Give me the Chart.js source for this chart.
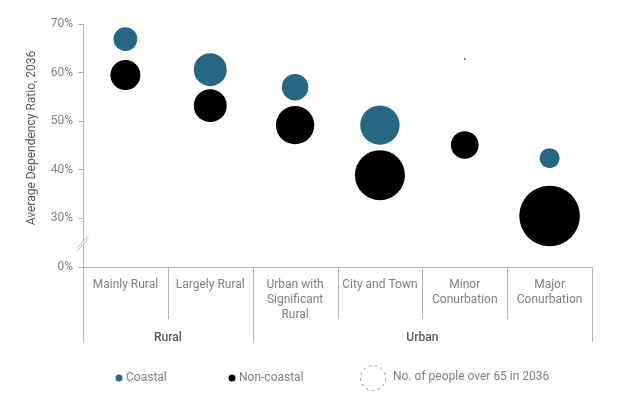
<!DOCTYPE html>
<html>
<head>
<meta charset="utf-8">
<script src="https://cdn.jsdelivr.net/npm/chart.js@4"></script>
<style>
  html, body { margin: 0; padding: 0; background: #fff; }
  #wrap { width: 620px; height: 399px; }
</style>
</head>
<body>
<div id="wrap"><canvas id="chart"></canvas></div>
<script>
// categories and groups
const categories = ['Mainly Rural', 'Largely Rural', 'Urban with Significant Rural', 'City and Town', 'Minor Conurbation', 'Major Conurbation'];
const categoryLines = [['Mainly Rural'], ['Largely Rural'], ['Urban with', 'Significant', 'Rural'], ['City and Town'], ['Minor', 'Conurbation'], ['Major', 'Conurbation']];
const groups = ['Rural', 'Urban'];
const groupSizes = [2, 4];

// average dependency ratio 2036 (%)
const coastalRatio = [66.9, 60.6, 57.0, 49.2, 62.8, 42.4];
const nonCoastalRatio = [59.5, 53.2, 49.2, 38.9, 45.1, 30.5];

// people over 65 in 2036 (thousands)
const coastalPeople = [170, 325, 210, 465, 1, 120];
const nonCoastalPeople = [270, 325, 440, 750, 230, 1100];

const yTicks = [20, 30, 40, 50, 60, 70];   // 20 is drawn as 0% below the axis break

const BLUE = '#276783';
const GREY_LINE = '#b4b4b4';
const TEXT = '#7f7f7f';
const TEXT_DARK = '#595959';
const FONT = 'Roboto, "Liberation Sans", sans-serif';
const SIZE_SCALE = 0.9136;

function bubbles(vals, people) {
  return vals.map((v, i) => ({ x: categories[i], y: v, r: SIZE_SCALE * Math.sqrt(people[i]) }));
}

const decor = {
  id: 'decor',
  afterDraw(chart) {
    const ctx = chart.ctx;
    const x = chart.scales.x;
    const area = chart.chartArea;
    const base = area.bottom;
    const n = categories.length;
    const bound = i => i === 0 ? area.left : i === n ? area.right : (x.getPixelForValue(i - 1) + x.getPixelForValue(i)) / 2;

    ctx.save();
    ctx.strokeStyle = GREY_LINE;
    ctx.lineWidth = 1;

    // baseline
    ctx.beginPath();
    ctx.moveTo(area.left - 5, Math.round(base) + 0.5);
    ctx.lineTo(area.right, Math.round(base) + 0.5);
    ctx.stroke();

    // separators
    const groupEdges = [0];
    groupSizes.forEach(s => groupEdges.push(groupEdges[groupEdges.length - 1] + s));
    for (let i = 0; i <= n; i++) {
      const px = Math.round(bound(i)) + 0.5;
      const end = groupEdges.includes(i) ? 342 : 319;
      ctx.beginPath();
      ctx.moveTo(px, i === 0 ? area.top : base);
      ctx.lineTo(px, end);
      ctx.stroke();
    }

    // axis break
    const by = (chart.scales.y.getPixelForValue(20) + chart.scales.y.getPixelForValue(30)) / 2;
    const ax = Math.round(area.left) + 0.5;
    ctx.fillStyle = '#fff';
    ctx.beginPath();
    ctx.moveTo(ax - 6, by + 5);
    ctx.lineTo(ax + 5, by - 7);
    ctx.lineTo(ax + 5, by - 4);
    ctx.lineTo(ax - 6, by + 8);
    ctx.closePath();
    ctx.fill();
    ctx.beginPath();
    ctx.moveTo(ax - 6, by + 5); ctx.lineTo(ax + 5, by - 7);
    ctx.moveTo(ax - 6, by + 8); ctx.lineTo(ax + 5, by - 4);
    ctx.stroke();

    // category labels
    ctx.textAlign = 'center';
    ctx.textBaseline = 'middle';
    ctx.font = '12px ' + FONT;
    ctx.fillStyle = TEXT;
    categoryLines.forEach((lines, i) => {
      const cx = x.getPixelForValue(i);
      lines.forEach((t, j) => ctx.fillText(t, cx, 285 + j * 15));
    });

    // group labels
    ctx.font = '500 12px ' + FONT;
    ctx.fillStyle = TEXT_DARK;
    groups.forEach((g, k) => {
      const cx = (bound(groupEdges[k]) + bound(groupEdges[k + 1])) / 2;
      ctx.fillText(g, cx, 338);
    });

    // y-axis title
    ctx.save();
    ctx.translate(32, 138);
    ctx.rotate(-Math.PI / 2);
    ctx.font = '12px ' + FONT;
    ctx.fillStyle = TEXT_DARK;
    ctx.fillText('Average Dependency Ratio, 2036', 0, 0);
    ctx.restore();

    // legend
    const ly = 378;
    ctx.textAlign = 'left';
    ctx.font = '12px ' + FONT;
    ctx.fillStyle = BLUE;
    ctx.beginPath(); ctx.arc(119, ly, 3.5, 0, Math.PI * 2); ctx.fill();
    ctx.fillStyle = TEXT;
    ctx.fillText('Coastal', 126, ly);
    ctx.fillStyle = '#000';
    ctx.beginPath(); ctx.arc(232, ly, 3.5, 0, Math.PI * 2); ctx.fill();
    ctx.fillStyle = TEXT;
    ctx.fillText('Non-coastal', 239, ly);
    ctx.setLineDash([3, 3]);
    ctx.strokeStyle = '#999';
    ctx.beginPath(); ctx.arc(373, ly, 12.5, 0, Math.PI * 2); ctx.stroke();
    ctx.setLineDash([]);
    ctx.fillText('No. of people over 65 in 2036', 393, ly - 1);

    ctx.restore();
  }
};

new Chart(document.getElementById('chart'), {
  type: 'bubble',
  data: {
    labels: categories,
    datasets: [
      { label: 'Non-coastal', data: bubbles(nonCoastalRatio, nonCoastalPeople), backgroundColor: '#000', borderWidth: 0 },
      { label: 'Coastal', data: bubbles(coastalRatio, coastalPeople), backgroundColor: BLUE, borderWidth: 0 }
    ]
  },
  options: {
    responsive: true,
    maintainAspectRatio: false,
    animation: false,
    events: [],
    layout: { autoPadding: false, padding: { top: 24, right: 28, left: 0, bottom: 0 } },
    plugins: { legend: { display: false }, tooltip: { enabled: false } },
    scales: {
      x: {
        type: 'category',
        labels: categories,
        offset: true,
        grid: { display: false },
        border: { display: false },
        ticks: { display: false },
        afterFit: s => { s.height = 132; }
      },
      y: {
        min: 20,
        max: 70,
        afterBuildTicks: s => { s.ticks = yTicks.map(v => ({ value: v })); },
        ticks: {
          color: TEXT,
          font: { family: FONT, size: 12 },
          padding: 5,
          callback: v => (v === 20 ? 0 : v) + '%'
        },
        grid: { drawOnChartArea: false, tickLength: 5, color: GREY_LINE },
        border: { color: GREY_LINE },
        afterFit: s => { s.width = 83; }
      }
    }
  },
  plugins: [decor]
});
</script>
</body>
</html>
